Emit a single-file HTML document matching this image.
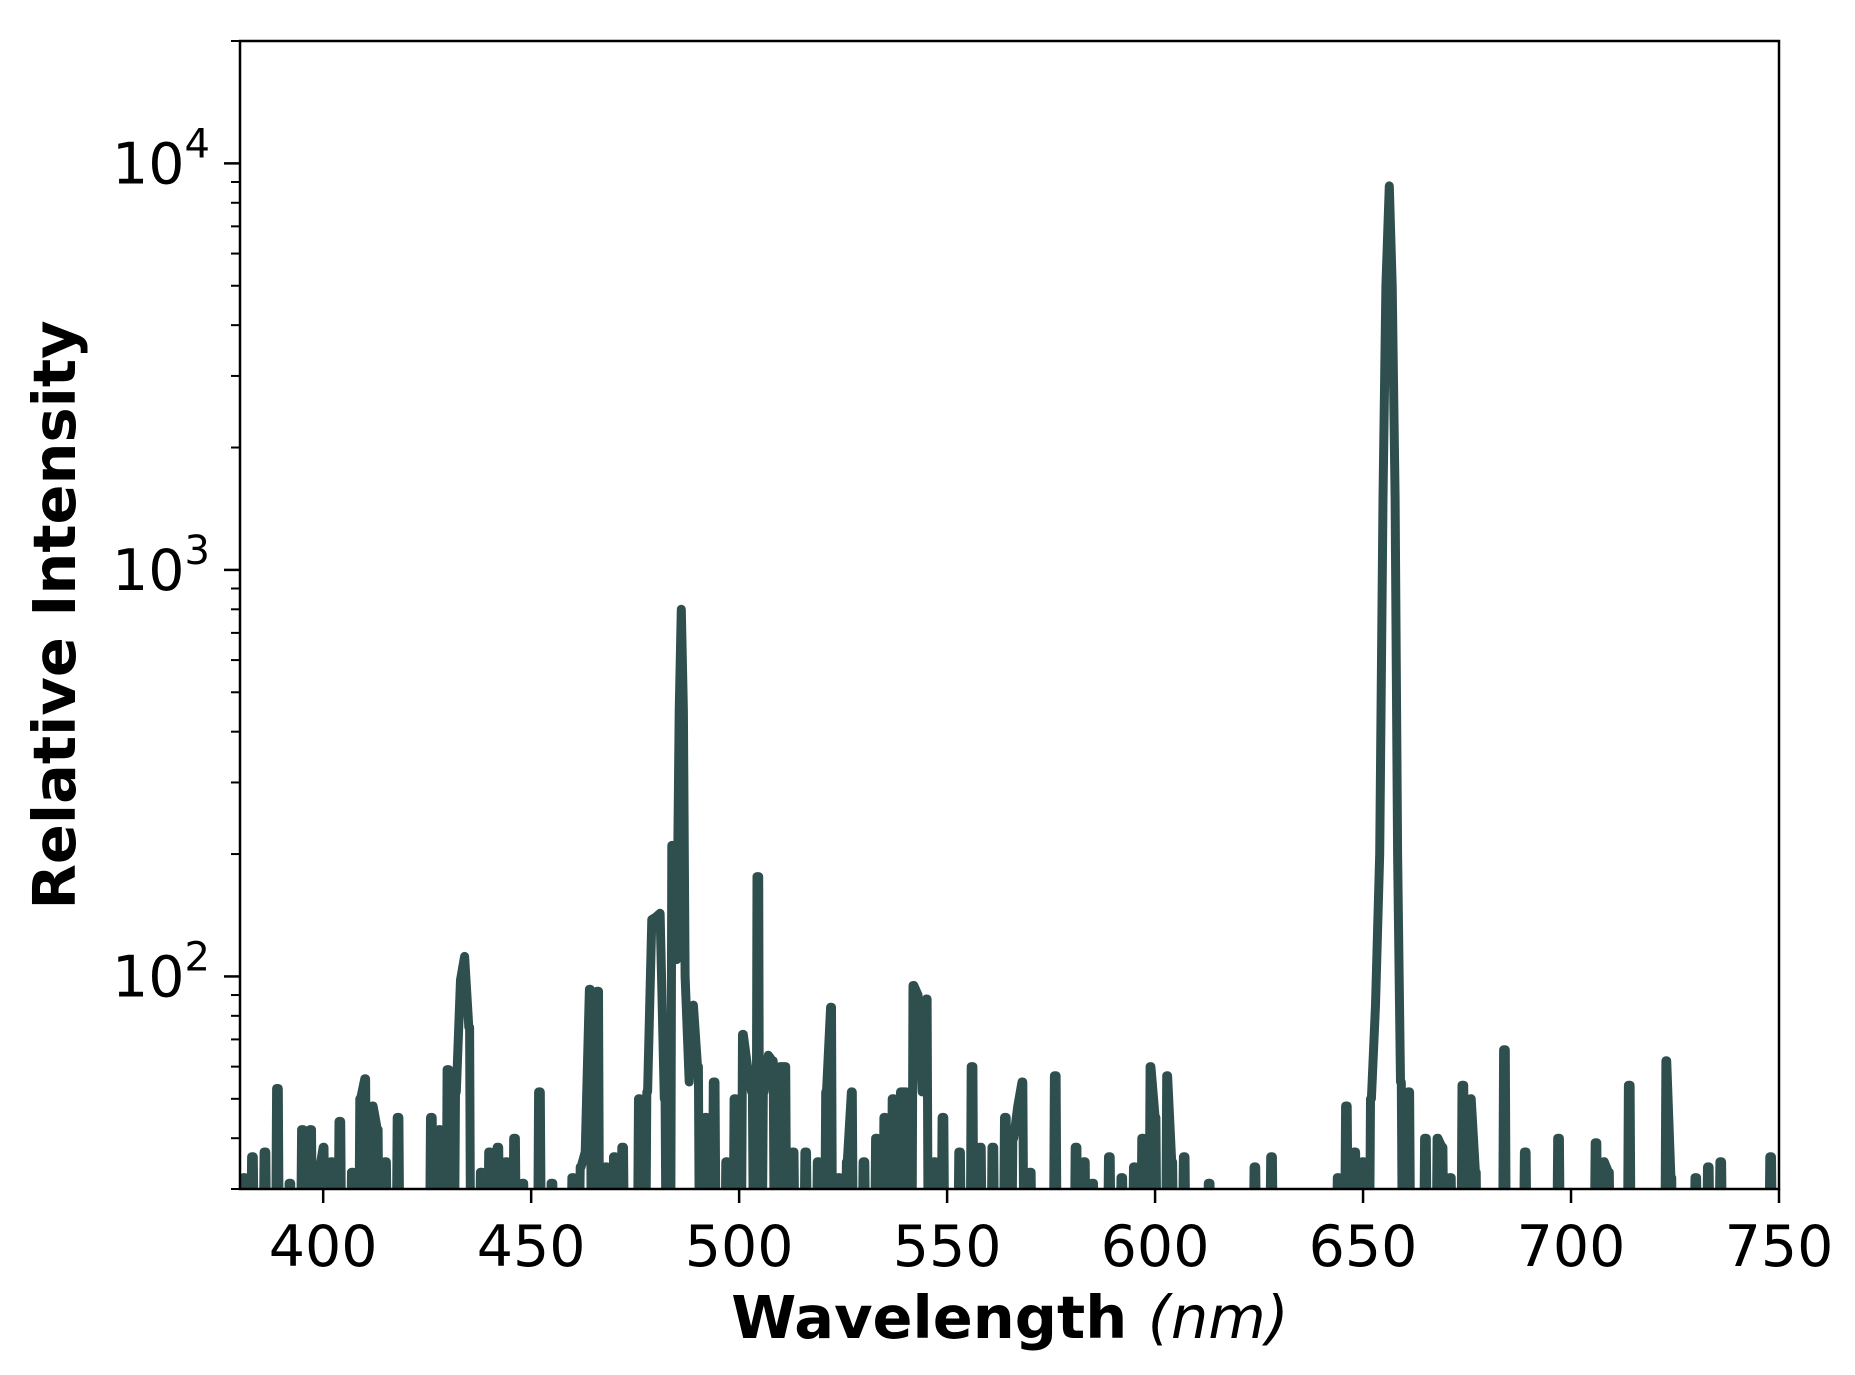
<!DOCTYPE html>
<html><head><meta charset="utf-8"><style>
html,body{margin:0;padding:0;background:#fff;}
svg{display:block;font-family:"DejaVu Sans","Liberation Sans",sans-serif;}
</style></head><body>
<svg id="chart" width="1855" height="1375" viewBox="0 0 1855 1375" xmlns="http://www.w3.org/2000/svg">
<defs><clipPath id="plotclip"><rect x="240" y="41" width="1539" height="1148"/></clipPath></defs>
<rect x="0" y="0" width="1855" height="1375" fill="#fff"/>
<g id="series" clip-path="url(#plotclip)"></g>
<g id="axes"></g>
<text x="1010" y="1338" text-anchor="middle" font-size="59" font-weight="bold">Wavelength <tspan font-weight="normal" font-style="italic">(nm)</tspan></text>
<text transform="translate(75,615) rotate(-90)" text-anchor="middle" font-size="59" font-weight="bold">Relative Intensity</text>
</svg>
<script>
const wavelengths = [381,383,386,389,392,395,397,399,400,402,404,407,409,410,412,413,415,418,426,428,430,432,433,434,435,438,440,442,444,446,448,452,455,460,462,463,464,466,468,470,472,476,478,479,480,481,482,484,485,485.6,486.1,486.6,487,488,489,490,492,494,497,499,501,502,503,504.5,506,507,508,510,511,513,516,519,521,522,524,526,527,530,533,535,537,539,540,542,543,544,545,547,549,553,556,558,561,564,566,567,568,570,576,581,583,585,589,592,595,597,599,600,603,604,607,613,624,628,644,646,648,650,652,653,654,654.8,655.5,656.3,657,657.7,658.3,659,661,665,668,669,671,674,676,677,684,689,697,706,708,709,714,723,724,730,733,736,748];
const intensities = [32,36,37,53,31,42,42,33,38,35,44,33,50,56,48,42,35,45,45,42,59,52,98,112,75,33,37,38,35,40,31,52,31,32,34,37,93,92,34,36,38,50,52,138,140,143,50,210,110,450,800,450,100,55,85,60,45,55,35,50,72,60,52,176,52,64,62,60,60,37,37,35,52,84,32,35,52,35,40,45,50,52,52,95,90,52,88,35,45,37,60,38,38,45,40,48,55,33,57,38,35,31,36,32,34,40,60,45,57,35,36,31,34,36,32,48,37,35,50,85,200,1500,5000,8800,5000,1500,200,55,52,40,40,38,32,54,50,33,66,37,40,39,35,33,54,62,32,32,34,35,36];
const xTicks = [400,450,500,550,600,650,700,750];
const yTicks = [100,1000,10000];
const yTickLabels = ["2","3","4"];

const NS = "http://www.w3.org/2000/svg";
const X0=240, X1=1779, Y0=41, Y1=1189, XMIN=380, XMAX=750, YMIN=Math.log10(30), YMAX=Math.log10(20000);
function xs(v){return X0+(v-XMIN)/(XMAX-XMIN)*(X1-X0);}
function ys(v){return Y1-(Math.log10(v)-YMIN)/(YMAX-YMIN)*(Y1-Y0);}
function mk(tag, attrs, parent){const e=document.createElementNS(NS,tag);for(const k in attrs)e.setAttribute(k,attrs[k]);parent.appendChild(e);return e;}

const series=document.getElementById('series');
let pts=[];
const floorV=20;
for(let i=0;i<wavelengths.length;i++){
  const w=wavelengths[i], v=intensities[i];
  const prev=i>0?wavelengths[i-1]:-1e9, next=i<wavelengths.length-1?wavelengths[i+1]:1e9;
  if(w-prev>1.0){ pts.push([xs(w-0.45),ys(floorV)]); pts.push([xs(w-0.2),ys(v)]); }
  pts.push([xs(w),ys(v)]);
  if(next-w>1.0){ pts.push([xs(w+0.2),ys(v)]); pts.push([xs(w+0.45),ys(floorV)]); }
}
const line=mk('polyline',{points:pts.map(p=>p[0].toFixed(1)+','+p[1].toFixed(1)).join(' '),fill:'none',stroke:'#2f4f4f','stroke-width':9,'stroke-linejoin':'round','stroke-linecap':'round'},series);



const axes=document.getElementById('axes');
const frame=mk('rect',{x:X0,y:Y0,width:X1-X0,height:Y1-Y0,fill:'none',stroke:'#000','stroke-width':2.5},axes);



xTicks.forEach(t=>{
  const x=xs(t);
  const tk=mk('line',{x1:x,y1:Y1,x2:x,y2:Y1+14,stroke:'#000','stroke-width':2.5},axes);
  
  
  const lb=mk('text',{x:x,y:1266,'text-anchor':'middle','font-size':57},axes);
  lb.textContent=String(t);
  
  
});
yTicks.forEach((t,i)=>{
  const y=ys(t);
  const tk=mk('line',{x1:X0-16,y1:y,x2:X0,y2:y,stroke:'#000','stroke-width':2.5},axes);
  
  
  const lb=mk('text',{x:210,y:y+20,'text-anchor':'end','font-size':57},axes);
  lb.textContent='10';
  const sp=mk('tspan',{dy:-26,'font-size':40},lb);
  sp.textContent=yTickLabels[i];
  
  
});
for(let d=1;d<=4;d++){
  for(let m=2;m<=9;m++){
    const v=m*Math.pow(10,d);
    if(v<30||v>20000) continue;
    const y=ys(v);
    const mt=mk('line',{x1:X0-9,y1:y,x2:X0,y2:y,stroke:'#000','stroke-width':2},axes);
    
    
  }
}
</script>
</body></html>
